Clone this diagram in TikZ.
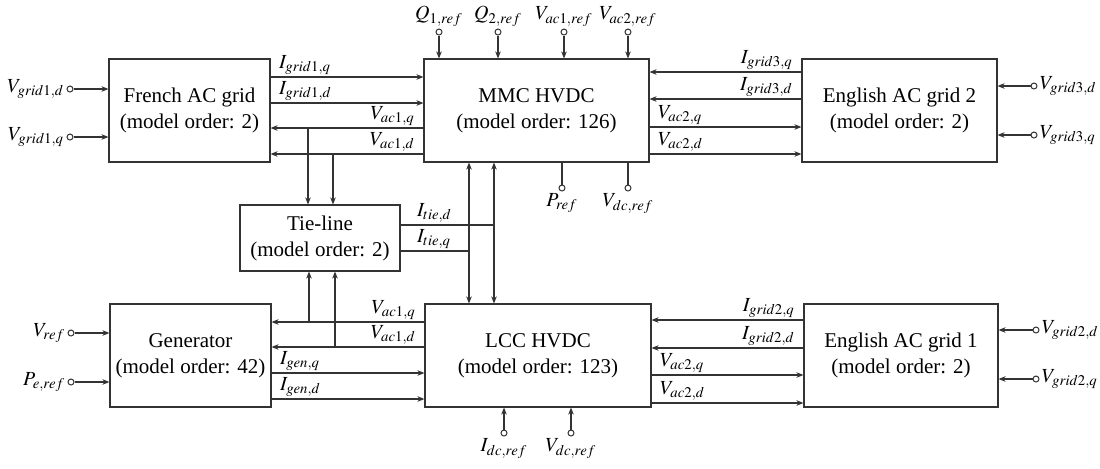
\documentclass[tikz,border=0pt]{standalone}
\usepackage{mathptmx}
\usepackage[no-math]{fontspec}
\setmainfont{Liberation Serif}
\newfontfamily\blkfont{Liberation Serif}
\usetikzlibrary{arrows.meta,positioning}

\begin{document}
\begin{tikzpicture}[
  x=0.5pt, y=-0.5pt,
  blk/.style={rectangle, draw=black!80, line width=0.6pt, align=center,
              font=\blkfont\fontsize{10.5}{13}\selectfont, minimum height=51.5pt, inner sep=2pt},
  arr/.style={-{Stealth[length=3.5pt,width=2.8pt]}, draw=black!80, line width=0.6pt},
  dbl/.style={{Stealth[length=3.5pt,width=2.8pt]}-{Stealth[length=3.5pt,width=2.8pt]},
              draw=black!80, line width=0.6pt},
  ln/.style={draw=black!80, line width=0.6pt},
  term/.style={circle, draw=black!80, line width=0.5pt, fill=white, inner sep=0pt, minimum size=3pt},
  lab/.style={font=\fontsize{10}{12}\selectfont, inner sep=1pt},
  ll/.style={lab, pos=0, anchor=south west, xshift=3pt},
  lr/.style={lab, pos=0, anchor=south east, xshift=-3pt}
]
\useasboundingbox (0,0) rectangle (1100,468);

% blocks
\node[blk, minimum width=80.5pt] (french) at (189.5,110.5) {French AC grid\\(model order: 2)};
\node[blk, minimum width=112.5pt] (mmc) at (536.5,110.5) {MMC HVDC\\(model order: 126)};
\node[blk, minimum width=97.5pt] (eng2) at (899.5,110.5) {English AC grid 2\\(model order: 2)};
\node[blk, minimum width=80pt, minimum height=33pt] (tie) at (320,238) {Tie-line\\(model order: 2)};
\node[blk, minimum width=80.5pt] (gen) at (190.5,355.5) {Generator\\(model order: 42)};
\node[blk, minimum width=113pt] (lcc) at (538,355.5) {LCC HVDC\\(model order: 123)};
\node[blk, minimum width=97pt] (eng1) at (901,355.5) {English AC grid 1\\(model order: 2)};

% external inputs
\node[term, label={[lab]left:$V_{grid1,d}$}] (vg1d) at (70,89) {};
\node[term, label={[lab]left:$V_{grid1,q}$}] (vg1q) at (70,137) {};
\node[term, label={[lab]left:$V_{ref}$}] (vref) at (71,333) {};
\node[term, label={[lab]left:$P_{e,ref}$}] (peref) at (71,382) {};
\node[term, label={[lab]right:$V_{grid3,d}$}] (vg3d) at (1034,86) {};
\node[term, label={[lab]right:$V_{grid3,q}$}] (vg3q) at (1034,135) {};
\node[term, label={[lab]right:$V_{grid2,d}$}] (vg2d) at (1036,330) {};
\node[term, label={[lab]right:$V_{grid2,q}$}] (vg2q) at (1036,379) {};
\node[term, label={[lab]above:$Q_{1,ref}$}] (q1) at (439,32) {};
\node[term, label={[lab]above:$Q_{2,ref}$}] (q2) at (498,32) {};
\node[term, label={[lab]above:$V_{ac1,ref}$}] (vac1r) at (564,32) {};
\node[term, label={[lab]above:$V_{ac2,ref}$}] (vac2r) at (628,32) {};
\node[term, label={[lab]below:$P_{ref}$}] (pref) at (562,188) {};
\node[term, label={[lab]below:$V_{dc,ref}$}] (vdcm) at (628,188) {};
\node[term, label={[lab]below:$I_{dc,ref}$}] (idcr) at (504,433) {};
\node[term, label={[lab]below:$V_{dc,ref}$}] (vdcl) at (571,433) {};

\draw[arr] (vg1d) -- (vg1d-|french.west);
\draw[arr] (vg1q) -- (vg1q-|french.west);
\draw[arr] (vref) -- (vref-|gen.west);
\draw[arr] (peref) -- (peref-|gen.west);
\draw[arr] (vg3d) -- (vg3d-|eng2.east);
\draw[arr] (vg3q) -- (vg3q-|eng2.east);
\draw[arr] (vg2d) -- (vg2d-|eng1.east);
\draw[arr] (vg2q) -- (vg2q-|eng1.east);
\foreach \t in {q1,q2,vac1r,vac2r} \draw[arr] (\t) -- (\t|-mmc.north);
\foreach \t in {pref,vdcm} \draw[ln] (mmc.south-|\t) -- (\t);
\foreach \t in {idcr,vdcl} \draw[arr] (\t) -- (\t|-lcc.south);

% French grid <-> MMC
\draw[arr] (french.east|-0,77) -- node[ll]{$I_{grid1,q}$} (mmc.west|-0,77);
\draw[arr] (french.east|-0,103) -- node[ll]{$I_{grid1,d}$} (mmc.west|-0,103);
\draw[arr] (mmc.west|-0,128) -- node[lr]{$V_{ac1,q}$} (french.east|-0,128);
\draw[arr] (mmc.west|-0,154) -- node[lr]{$V_{ac1,d}$} (french.east|-0,154);

% MMC <-> English grid 2
\draw[arr] (eng2.west|-0,72) -- node[lr]{$I_{grid3,q}$} (mmc.east|-0,72);
\draw[arr] (eng2.west|-0,99) -- node[lr]{$I_{grid3,d}$} (mmc.east|-0,99);
\draw[arr] (mmc.east|-0,127) -- node[ll]{$V_{ac2,q}$} (eng2.west|-0,127);
\draw[arr] (mmc.east|-0,154) -- node[ll]{$V_{ac2,d}$} (eng2.west|-0,154);

% Generator <-> LCC
\draw[arr] (lcc.west|-0,322) -- node[lr]{$V_{ac1,q}$} (gen.east|-0,322);
\draw[arr] (lcc.west|-0,347) -- node[lr]{$V_{ac1,d}$} (gen.east|-0,347);
\draw[arr] (gen.east|-0,373) -- node[ll]{$I_{gen,q}$} (lcc.west|-0,373);
\draw[arr] (gen.east|-0,399) -- node[ll]{$I_{gen,d}$} (lcc.west|-0,399);

% LCC <-> English grid 1
\draw[arr] (eng1.west|-0,320) -- node[lr]{$I_{grid2,q}$} (lcc.east|-0,320);
\draw[arr] (eng1.west|-0,348) -- node[lr]{$I_{grid2,d}$} (lcc.east|-0,348);
\draw[arr] (lcc.east|-0,375) -- node[ll]{$V_{ac2,q}$} (eng1.west|-0,375);
\draw[arr] (lcc.east|-0,403) -- node[ll]{$V_{ac2,d}$} (eng1.west|-0,403);

% tie-line taps
\coordinate (ja) at (308,128);
\coordinate (jb) at (333,154);
\coordinate (jc) at (309,322);
\coordinate (jd) at (335,347);
\draw[arr] (ja) -- (ja|-tie.north);
\draw[arr] (jb) -- (jb|-tie.north);
\draw[arr] (jc) -- (jc|-tie.south);
\draw[arr] (jd) -- (jd|-tie.south);

% MMC <-> LCC and tie-line currents
\coordinate (td) at (494,225);
\coordinate (tq) at (469,251);
\draw[dbl] (mmc.south-|tq) -- (lcc.north-|tq);
\draw[dbl] (mmc.south-|td) -- (lcc.north-|td);
\draw[ln] (tie.east|-td) -- node[ll, xshift=4pt]{$I_{tie,d}$} (td);
\draw[ln] (tie.east|-tq) -- node[ll, xshift=4pt]{$I_{tie,q}$} (tq);
\end{tikzpicture}
\end{document}
